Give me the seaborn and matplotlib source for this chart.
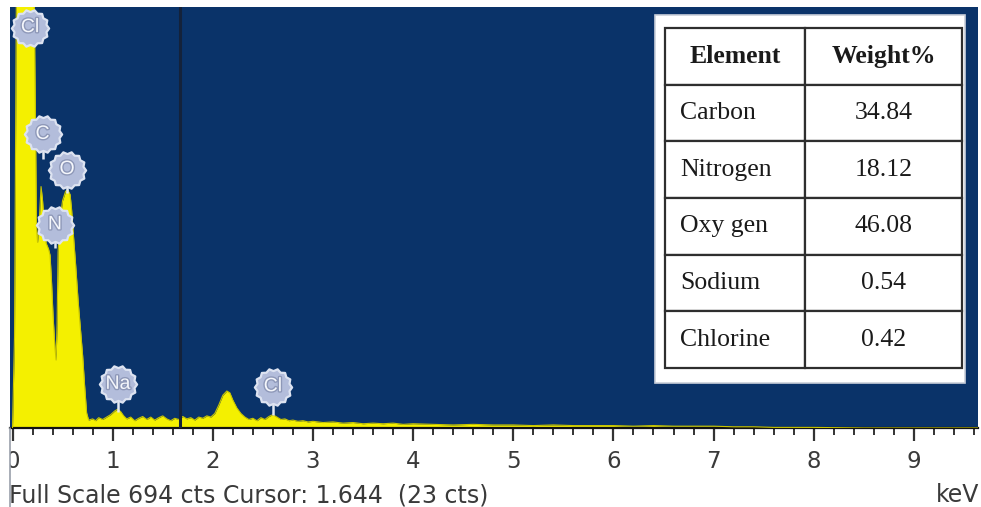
import matplotlib
matplotlib.use("Agg")
import matplotlib.pyplot as plt
import seaborn as sns
import pandas as pd
import numpy as np
from matplotlib.path import Path
from matplotlib.patches import Rectangle
from matplotlib.lines import Line2D
from matplotlib.ticker import MultipleLocator
import matplotlib.patheffects as pe

# ---------------- data ----------------
energy_kev = [0.00, 0.02, 0.04, 0.06, 0.10, 0.15, 0.20, 0.215, 0.228, 0.24,
              0.25, 0.265, 0.285, 0.30, 0.315, 0.335, 0.36, 0.375, 0.39, 0.405,
              0.425, 0.435, 0.445, 0.455, 0.475, 0.50, 0.53, 0.55, 0.575, 0.59,
              0.605, 0.63, 0.655, 0.68, 0.70, 0.72, 0.74, 0.76, 0.80, 0.83,
              0.86, 0.90, 0.94, 0.98, 1.02, 1.05, 1.08, 1.11, 1.14, 1.18,
              1.22, 1.26, 1.30, 1.34, 1.38, 1.42, 1.46, 1.50, 1.54, 1.58,
              1.62, 1.66, 1.70, 1.74, 1.78, 1.82, 1.86, 1.90, 1.94, 1.98,
              2.02, 2.06, 2.10, 2.14, 2.17, 2.20, 2.24, 2.28, 2.32, 2.36,
              2.40, 2.44, 2.48, 2.52, 2.56, 2.60, 2.64, 2.68, 2.72, 2.76,
              2.80, 2.85, 2.90, 2.95, 3.00, 3.10, 3.20, 3.30, 3.40, 3.50,
              3.60, 3.70, 3.80, 3.90, 4.00, 4.20, 4.40, 4.60, 4.80, 5.00,
              5.20, 5.40, 5.60, 5.80, 6.00, 6.20, 6.40, 6.60, 6.80, 7.00,
              7.20, 7.40, 7.60, 7.80, 8.00, 8.50, 9.00, 9.64]
counts = [0, 150, 760, 780, 800, 800, 780, 730, 520, 330,
          306, 335, 398, 375, 340, 305, 295, 285, 240, 185,
          130, 112, 170, 290, 345, 375, 390, 393, 385, 360,
          325, 270, 210, 160, 120, 70, 25, 13, 15, 12,
          17, 14, 18, 22, 28, 31, 27, 20, 15, 18,
          12, 16, 19, 14, 18, 13, 17, 20, 15, 12,
          16, 14, 19, 15, 17, 13, 18, 16, 20, 18,
          24, 38, 54, 61, 58, 46, 33, 24, 18, 14,
          16, 12, 17, 14, 19, 22, 18, 14, 15, 12,
          13, 11, 12, 10, 11, 9, 10, 8, 9, 7,
          8, 7, 8, 6, 7, 6, 5, 6, 5, 5,
          4, 5, 4, 4, 4, 3, 4, 3, 3, 3,
          2, 2, 1, 1, 1, 0, 0, 0]

peak_labels = ["Cl", "C", "O", "N", "Na", "Cl"]
label_energy = [0.175, 0.30, 0.545, 0.424, 1.054, 2.60]
label_counts = [660, 484, 426, 335, 72, 68]
stem_bottom = [660, 443, 388, 297, 26, 21]

elements = ["Carbon", "Nitrogen", "Oxy gen", "Sodium", "Chlorine"]
weight_pct = ["34.84", "18.12", "46.08", "0.54", "0.42"]
table_header = ["Element", "Weight%"]

full_scale_cts = 694
cursor_kev = 1.644
cursor_cts = 23
cursor_line_kev = 1.67
x_major = list(range(10))

# ---------------- style ----------------
sns.set_theme(style="ticks")
plt.rcParams["font.family"] = ["DejaVu Sans"]

W, H = 981, 507
fig = plt.figure(figsize=(W / 100, H / 100), dpi=100)
fig.patch.set_facecolor("white")
ax = fig.add_axes([10 / W, 79 / H, 968 / W, 421 / H])
ax.set_facecolor("#0a3369")

df = pd.DataFrame({"keV": energy_kev, "cts": counts})
ax.fill_between(df["keV"], 0, df["cts"], color="#f4f000", linewidth=0, zorder=2)
sns.lineplot(data=df, x="keV", y="cts", ax=ax, color="#c9c500",
             linewidth=0.8, zorder=3, legend=False)

ax.axvline(cursor_line_kev, color="#14223a", linewidth=2.2, zorder=3.5)

ax.set_xlim(-0.025, 9.64)
ax.set_ylim(0, full_scale_cts)
ax.set_xlabel("")
ax.set_ylabel("")
ax.set_yticks([])
ax.set_xticks(x_major)
ax.set_xticklabels([str(v) for v in x_major])
ax.xaxis.set_minor_locator(MultipleLocator(0.2))
ax.tick_params(axis="x", which="major", direction="out", length=9, width=1.6,
               color="#333333", labelsize=16.5, labelcolor="#3a3a3a", pad=7)
ax.tick_params(axis="x", which="minor", direction="out", length=5, width=1.4,
               color="#333333")
for s in ["left", "top", "right"]:
    ax.spines[s].set_visible(False)
ax.spines["bottom"].set_color("#111111")
ax.spines["bottom"].set_linewidth(1.6)

# clip the "0" tick label at the left border like the reference
clip_rect = Rectangle((10 / W, 0), 1, 1, transform=fig.transFigure)
lbl0 = ax.get_xticklabels()[0]
lbl0.set_clip_path(clip_rect)
lbl0.set_clip_on(True)

# ---------------- element badges ----------------
n = 14
ang = np.linspace(0, 2 * np.pi, 2 * n, endpoint=False)
rad = np.where(np.arange(2 * n) % 2 == 0, 1.0, 0.88)
verts = np.column_stack([rad * np.cos(ang), rad * np.sin(ang)])
verts = np.vstack([verts, verts[:1]])
gear = Path(verts, closed=True)

for e, c0, c1 in zip(label_energy, label_counts, stem_bottom):
    ax.plot([e, e], [c1, c0], color="#e3e9f3", linewidth=1.8, zorder=5,
            solid_capstyle="butt")
ax.scatter(label_energy, label_counts, marker=gear, s=720, color="#b3bddb",
           edgecolor="#dde3f1", linewidth=1.6, zorder=6)
for e, c, t in zip(label_energy, label_counts, peak_labels):
    ax.text(e, c, t, ha="center", va="center", fontsize=14, color="#f4f6fb",
            zorder=7, family=["Liberation Sans", "DejaVu Sans"],
            path_effects=[pe.withStroke(linewidth=2.0, foreground="#8e98b8")])

# ---------------- table ----------------
ax.add_patch(Rectangle((645 / 968, 45 / 421), 310 / 968, 368 / 421,
                       transform=ax.transAxes, facecolor="white",
                       edgecolor="#c9cfd9", linewidth=1.2, zorder=8))
cell_text = [table_header] + [[a, b] for a, b in zip(elements, weight_pct)]
tbl = ax.table(cellText=cell_text, colWidths=[140 / 297, 157 / 297],
               bbox=[655 / 968, 60 / 421, 297 / 968, 340 / 421],
               cellLoc="center", zorder=9)
tbl.auto_set_font_size(False)
for (r, cidx), cell in tbl.get_celld().items():
    cell.set_edgecolor("#2e2e2e")
    cell.set_linewidth(1.6)
    cell.set_facecolor("white")
    txt = cell.get_text()
    txt.set_fontfamily(["Liberation Serif", "DejaVu Serif"])
    txt.set_fontsize(18.5)
    txt.set_color("#1a1a1a")
    if r == 0:
        txt.set_fontweight("bold")
    elif cidx == 0:
        cell._loc = "left"
        cell.PAD = 0.11
        txt.set_ha("left")

# ---------------- bottom texts ----------------
fig.text(9 / W, 1 - 495 / H,
         f"Full Scale {full_scale_cts} cts Cursor: {cursor_kev:.3f}  ({cursor_cts} cts)",
         fontsize=17, color="#3a3a3a", va="center", ha="left")
fig.text(979 / W, 1 - 495 / H, "keV", fontsize=17, color="#3a3a3a",
         va="center", ha="right")
fig.add_artist(Line2D([10 / W, 10 / W], [0, 79 / H], transform=fig.transFigure,
                      color="#9aa0aa", linewidth=1.2))

fig.savefig("out.png", dpi=100)
